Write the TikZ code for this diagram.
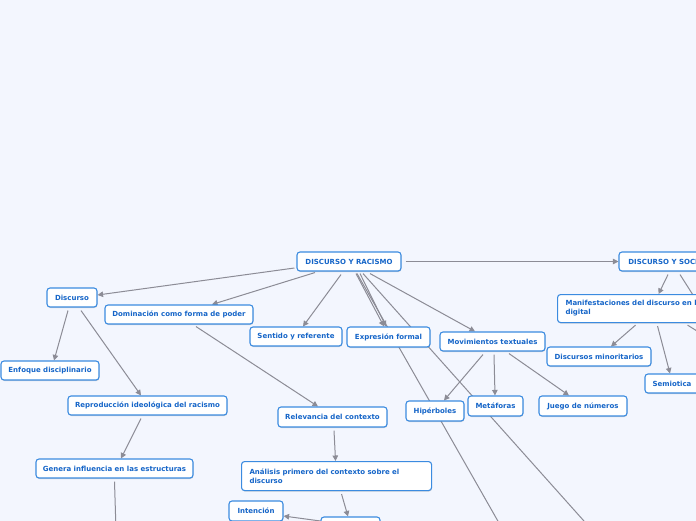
\documentclass[tikz,border=0pt]{standalone}
\usepackage{fontspec}
\setsansfont{DejaVu Sans}
\usepackage{tikz}
\usetikzlibrary{arrows.meta,positioning,backgrounds,shadows}
\definecolor{mapbg}{HTML}{F3F6FE}
\definecolor{mapborder}{HTML}{3B8BE0}
\definecolor{maptext}{HTML}{1565C8}
\definecolor{mapline}{HTML}{8C8C96}

\begin{document}
\begin{tikzpicture}[x=1pt, y=-1pt,
  topic/.style={draw=mapborder, line width=1.1pt, rounded corners=3pt, fill=white, inner sep=0pt,
    align=center, font=\fontsize{7}{9}\selectfont\bfseries\sffamily, text=maptext,
    drop shadow={shadow xshift=0.4pt, shadow yshift=-1pt, opacity=0.25, fill=black!60}},
  mtopic/.style={topic, align=left, inner xsep=8pt, anchor=north west},
  arr/.style={-{Triangle[length=5.5pt, width=5.5pt]}, line width=1pt, mapline},
  plain/.style={line width=1pt, mapline}
]
  \useasboundingbox (0,0) rectangle (696,520);

  \node[topic, minimum width=104, minimum height=19] (dr) at (349,261.5) {DISCURSO Y RACISMO};
  \node[topic, minimum width=110, minimum height=19] (ds) at (674,261.5) {DISCURSO Y SOCIEDAD};

  \node[topic, minimum width=50, minimum height=19] (disc) at (72,297.5) {Discurso};
  \node[topic, minimum width=148, minimum height=19] (dom) at (179,314.5) {Dominación como forma de poder};
  \node[topic, minimum width=98, minimum height=19] (enf) at (50,370.5) {Enfoque disciplinario};
  \node[topic, minimum width=92, minimum height=19] (sen) at (296,336.5) {Sentido y referente};
  \node[topic, minimum width=83, minimum height=20] (exp) at (388.5,337) {Expresión formal};
  \node[topic, minimum width=105, minimum height=19] (mov) at (492.5,341.5) {Movimientos textuales};

  \node[mtopic, text width=160, minimum height=28] (man) at (557,294) {Manifestaciones del discurso en la era\\digital};
  \node[topic, minimum width=104, minimum height=19] (min) at (599,356.5) {Discursos minoritarios};
  \node[topic, minimum width=54, minimum height=19] (sem) at (672,383.5) {Semiotica};

  \node[topic, minimum width=159, minimum height=19] (rep) at (147.5,405.5) {Reproducción ideológica del racismo};
  \node[topic, minimum width=109, minimum height=20] (rel) at (332.5,417) {Relevancia del contexto};
  \node[topic, minimum width=58, minimum height=20] (hip) at (435,411) {Hipérboles};
  \node[topic, minimum width=55, minimum height=20] (met) at (495.5,406) {Metáforas};
  \node[topic, minimum width=88, minimum height=20] (jue) at (583,406) {Juego de números};
  \node[topic, minimum width=157, minimum height=19] (gen) at (114.5,468.5) {Genera influencia en las estructuras};
  \node[mtopic, text width=174, minimum height=29] (ana) at (241,461) {Análisis primero del contexto sobre el\\discurso};
  \node[topic, minimum width=54, minimum height=20] (int) at (256,511) {Intención};
  \node[topic, minimum width=59, minimum height=20] (ctx) at (350.5,527) {};

  % free ends below and right of the page
  \coordinate (offa) at (503,530);
  \coordinate (offb) at (592,530);
  \coordinate (offgen) at (116,530);
  \coordinate (offds) at (700,306);
  \coordinate (offman) at (705,336);

  \begin{scope}[on background layer]
    \fill[mapbg] (-5,-5) rectangle (701,525);

    \draw[arr] ([xshift=-2pt, yshift=-6.5pt]dr.west) -- ([yshift=2.5pt]disc.east);
    \draw[arr] ([xshift=-34pt, yshift=-1pt]dr.south) -- ([xshift=33pt]dom.north);
    \draw[arr] ([xshift=-8pt, yshift=-3pt]dr.south) -- ([xshift=7pt]sen.north);
    \draw[arr] ([xshift=7pt, yshift=-2pt]dr.south) -- ([xshift=-4.5pt]exp.north);
    \draw[arr] ([xshift=11pt, yshift=-2pt]dr.south) -- ([xshift=-2.5pt]exp.north);
    \draw[plain] ([xshift=8pt, yshift=-2pt]dr.south) -- (offa);
    \draw[plain] ([xshift=14pt, yshift=-2pt]dr.south) -- (offb);
    \draw[arr] ([xshift=21pt, yshift=-2pt]dr.south) -- ([xshift=-17.5pt]mov.north);
    \draw[arr] ([xshift=4pt]dr.east) -- (ds.west);

    \draw[arr] ([xshift=-4pt, yshift=-3pt]disc.south) -- ([xshift=4pt]enf.north);
    \draw[arr] ([xshift=9pt, yshift=-3pt]disc.south) -- ([xshift=-6.5pt]rep.north);
    \draw[arr] ([xshift=17pt, yshift=-2pt]dom.south) -- ([xshift=-14.5pt]rel.north);
    \draw[arr] ([xshift=1.5pt, yshift=-3pt]rel.south) -- ([xshift=-1pt]ana.north);
    \draw[arr] ([xshift=5pt, yshift=-3pt]ana.south) -- ([xshift=-2.5pt]ctx.north);
    \draw[arr] ([yshift=6pt]ctx.west) -- ([yshift=-5pt]int.east);
    \draw[arr] ([xshift=-6.5pt, yshift=-3pt]rep.south) -- ([xshift=6.5pt]gen.north);
    \draw[plain] ([yshift=-3pt]gen.south) -- (offgen);

    \draw[arr] ([xshift=-9.5pt, yshift=-3pt]mov.south) -- ([xshift=9pt]hip.north);
    \draw[arr] ([xshift=1.5pt, yshift=-3pt]mov.south) -- ([xshift=-0.5pt]met.north);
    \draw[arr] ([xshift=16.5pt, yshift=-2pt]mov.south) -- ([xshift=-14pt]jue.north);

    \draw[arr] ([xshift=-6pt, yshift=-3pt]ds.south) -- ([xshift=13pt]man.north);
    \draw[plain] ([xshift=6pt, yshift=-3pt]ds.south) -- (offds);
    \draw[arr] ([xshift=-10pt, yshift=-2pt]man.south) -- ([xshift=12pt]min.north);
    \draw[arr] ([xshift=12pt, yshift=-3pt]man.south) -- ([xshift=-2pt]sem.north);
    \draw[plain] ([xshift=42pt, yshift=-2pt]man.south) -- (offman);
  \end{scope}
\end{tikzpicture}
\end{document}
